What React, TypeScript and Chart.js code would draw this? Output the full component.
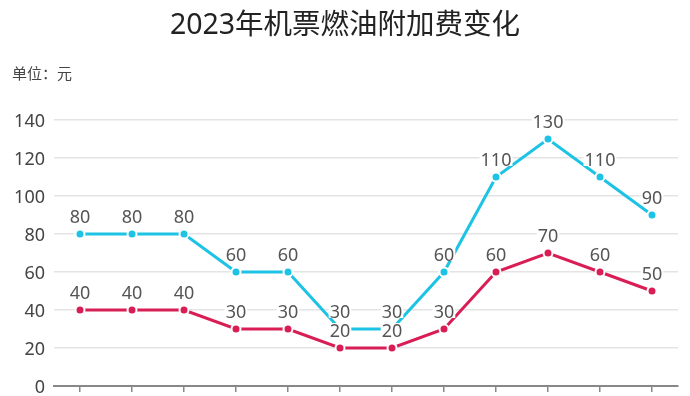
import React, { useEffect, useRef } from "react";
import { Chart, registerables } from "chart.js";

Chart.register(...registerables);

const TITLE = "2023年机票燃油附加费变化";
const UNIT = "单位：元";
const categories = ["1月", "2月", "3月", "4月", "5月", "6月", "7月", "8月", "9月", "10月", "11月", "12月"];
const domesticLong = [80, 80, 80, 60, 60, 30, 30, 60, 110, 130, 110, 90];
const domesticShort = [40, 40, 40, 30, 30, 20, 20, 30, 60, 70, 60, 50];
const yTicks = [0, 20, 40, 60, 80, 100, 120, 140];

const FONT = '"Noto Sans", "Noto Sans CJK SC", sans-serif';
const CJK = '"Noto Sans CJK SC", sans-serif';
const CYAN = "#1cc3e4";
const RED = "#d81e55";

const labelPlugin = {
  id: "labelsAndTitle",
  afterDatasetsDraw(chart: any) {
    const ctx = chart.ctx;
    ctx.save();
    ctx.font = `18px ${FONT}`;
    ctx.textAlign = "center";
    ctx.textBaseline = "middle";
    chart.data.datasets.forEach((ds: any, di: number) => {
      const meta = chart.getDatasetMeta(di);
      meta.data.forEach((pt: any, i: number) => {
        const txt = String(ds.data[i]);
        const x = pt.x;
        const y = pt.y - 18;
        const w = ctx.measureText(txt).width;
        ctx.fillStyle = "#ffffff";
        ctx.fillRect(x - w / 2 - 1, y - 7, w + 2, 14);
        ctx.fillStyle = "#555555";
        ctx.fillText(txt, x, y + 1.5);
      });
    });
    ctx.restore();
  },
  afterDraw(chart: any) {
    const ctx = chart.ctx;
    ctx.save();
    ctx.fillStyle = "#222222";
    ctx.font = `28.5px ${FONT}`;
    ctx.textAlign = "center";
    ctx.textBaseline = "middle";
    ctx.fillText(TITLE, 345, 26);
    ctx.fillStyle = "#444444";
    ctx.font = `15px ${CJK}`;
    ctx.textAlign = "left";
    ctx.fillText(UNIT, 12, 73);
    ctx.restore();
  },
};

export default function App() {
  const ref = useRef<HTMLCanvasElement | null>(null);
  useEffect(() => {
    if (!ref.current) return;
    const chart = new Chart(ref.current, {
      type: "line",
      data: {
        labels: categories,
        datasets: [
          {
            label: "国内航线(800公里以上)",
            data: domesticLong,
            borderColor: CYAN,
            backgroundColor: CYAN,
            borderWidth: 3,
            pointRadius: 4.5,
            pointBorderWidth: 2,
            pointBorderColor: "#ffffff",
            pointBackgroundColor: CYAN,
            tension: 0,
          },
          {
            label: "国内航线(800公里及以下)",
            data: domesticShort,
            borderColor: RED,
            backgroundColor: RED,
            borderWidth: 3,
            pointRadius: 4.5,
            pointBorderWidth: 2,
            pointBorderColor: "#ffffff",
            pointBackgroundColor: RED,
            tension: 0,
          },
        ],
      },
      options: {
        animation: false,
        responsive: true,
        maintainAspectRatio: false,
        layout: { padding: { top: 120, left: 0, right: 12, bottom: 0 } },
        plugins: {
          legend: { display: false },
          title: { display: false },
          tooltip: { enabled: false },
        },
        scales: {
          x: {
            offset: true,
            grid: {
              offset: false,
              drawOnChartArea: false,
              drawTicks: true,
              tickLength: 6,
              color: "#888888",
              lineWidth: 1.5,
            },
            border: { display: true, color: "#888888", width: 2 },
            ticks: { color: "#444", font: { family: FONT, size: 16 }, padding: 8 },
            afterFit(scale: any) {
              scale.height = 44;
            },
          },
          y: {
            min: 0,
            max: 140,
            afterBuildTicks(scale: any) {
              scale.ticks = yTicks.map((v) => ({ value: v }));
            },
            grid: { color: "#e4e4e4", lineWidth: 1.5, drawTicks: false },
            border: { display: false },
            ticks: { color: "#444444", font: { family: FONT, size: 18 }, padding: 9, labelOffset: 1.5 },
            afterFit(scale: any) {
              scale.width = 54;
            },
          },
        },
      },
      plugins: [labelPlugin],
    });
    return () => chart.destroy();
  }, []);
  return (
    <div style={{ position: "absolute", left: 0, top: 0, width: 690, height: 430 }}>
      <canvas ref={ref} />
    </div>
  );
}
